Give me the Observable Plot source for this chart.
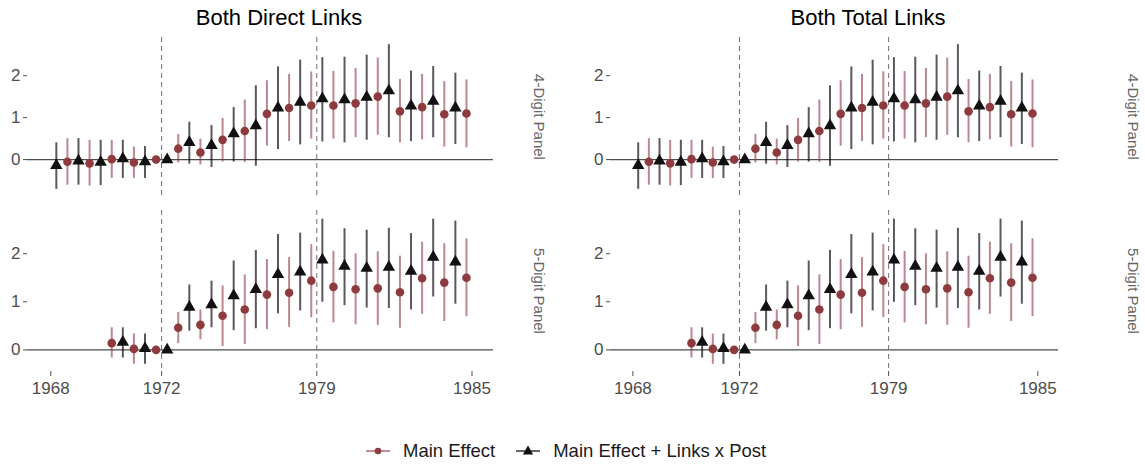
<!DOCTYPE html>
<html>
<head>
<meta charset="utf-8">
<script src="https://cdn.jsdelivr.net/npm/d3@7"></script>
<script src="https://cdn.jsdelivr.net/npm/@observablehq/plot@0.6"></script>
<style>
  html, body { margin: 0; padding: 0; background: #fff; }
  #root { position: relative; width: 1145px; height: 464px; font-family: "Liberation Sans", Arial, sans-serif; overflow: hidden; }
  .title { position: absolute; top: 5px; font-size: 22px; color: #000; transform: translateX(-50%); white-space: nowrap; }
  .plot { position: absolute; }
  #legend { position: absolute; left: 366px; top: 440px; display: flex; align-items: center; font-size: 18.5px; color: #1a1a1a; white-space: nowrap; }
  #legend .item { display: flex; align-items: center; }
  #legend svg { margin-right: 13px; }
</style>
</head>
<body>
<div id="root"></div>
<script>
// ---- categories / ticks ----
const period = [0,1,2,3,4,5,6,7,8,9,10,11,12,13,14,15,16,17,18,19];
const tickPositions = [0, 5, 12, 19];
const tickLabels = ["1968", "1972", "1979", "1985"];
const yTicks = [0, 1, 2];
const dashedAt = [5, 12];
const columnTitles = ["Both Direct Links", "Both Total Links"];
const rowLabels = ["4-Digit Panel", "5-Digit Panel"];
const seriesNames = ["Main Effect", "Main Effect + Links x Post"];

// ---- 4-digit panel ----
const main4   = [null, -0.05, -0.09, 0.01, -0.07, 0, 0.26, 0.17, 0.47, 0.68, 1.09, 1.23, 1.29, 1.29, 1.34, 1.50, 1.15, 1.25, 1.08, 1.10];
const main4Lo = [null, -0.61, -0.63, -0.45, -0.45, null, -0.08, -0.13, -0.06, -0.07, 0.32, 0.43, 0.49, 0.49, 0.52, 0.58, 0.40, 0.47, 0.30, 0.28];
const main4Hi = [null, 0.50, 0.46, 0.46, 0.30, null, 0.60, 0.49, 0.98, 1.42, 1.88, 2.03, 2.09, 2.10, 2.17, 2.42, 1.91, 2.03, 1.86, 1.90];
const tot4    = [-0.14, -0.03, -0.06, 0.02, -0.05, 0, 0.41, 0.34, 0.62, 0.81, 1.23, 1.37, 1.45, 1.43, 1.49, 1.64, 1.28, 1.39, 1.23, null];
const tot4Lo  = [-0.71, -0.61, -0.62, -0.45, -0.45, null, -0.11, -0.19, -0.06, -0.16, 0.24, 0.35, 0.42, 0.40, 0.46, 0.52, 0.43, 0.52, 0.36, null];
const tot4Hi  = [0.40, 0.50, 0.46, 0.46, 0.31, null, 0.89, 0.81, 1.24, 1.76, 2.21, 2.37, 2.43, 2.44, 2.49, 2.74, 2.11, 2.22, 2.06, null];

// ---- 5-digit panel ----
const main5   = [null, null, null, 0.14, 0.02, 0, 0.46, 0.52, 0.71, 0.84, 1.15, 1.19, 1.44, 1.31, 1.26, 1.28, 1.20, 1.49, 1.40, 1.50];
const main5Lo = [null, null, null, -0.17, -0.30, null, 0.13, 0.21, 0.07, 0.11, 0.42, 0.47, 0.67, 0.56, 0.52, 0.51, 0.45, 0.74, 0.59, 0.69];
const main5Hi = [null, null, null, 0.46, 0.33, null, 0.78, 0.83, 1.33, 1.56, 1.88, 1.92, 2.19, 2.05, 2.00, 2.04, 1.95, 2.24, 2.21, 2.31];
const tot5    = [null, null, null, 0.16, 0.03, 0, 0.89, 0.94, 1.13, 1.26, 1.57, 1.62, 1.87, 1.74, 1.70, 1.72, 1.64, 1.93, 1.83, null];
const tot5Lo  = [null, null, null, -0.17, -0.30, null, 0.39, 0.46, 0.40, 0.44, 0.75, 0.81, 0.99, 0.92, 0.87, 0.86, 0.83, 1.10, 0.95, null];
const tot5Hi  = [null, null, null, 0.46, 0.33, null, 1.35, 1.43, 1.85, 2.07, 2.40, 2.43, 2.72, 2.52, 2.49, 2.53, 2.42, 2.72, 2.68, null];

// ---- styling ----
const FONT = '"Liberation Sans", Arial, sans-serif';
const RED = "#8E3B3F";
const BLACK = "#111111";
const DODGE = 0.25;

function rows(est, lo, hi, offset) {
  const out = [];
  period.forEach((p, i) => {
    if (est[i] == null) return;
    out.push({ pos: p + offset, v: est[i], lo: lo[i], hi: hi[i] });
  });
  return out;
}

const rowData = [
  { main: rows(main4, main4Lo, main4Hi, -DODGE), tot: rows(tot4, tot4Lo, tot4Hi, DODGE), yDomain: [-0.88, 2.91] },
  { main: rows(main5, main5Lo, main5Hi, -DODGE), tot: rows(tot5, tot5Lo, tot5Hi, DODGE), yDomain: [-0.45, 2.90] }
];

const columns = [
  { svgLeft: 0, panelLeft: 27, panelRight: 493, svgRight: 556, stripDx: 45, titleX: 279 },
  { svgLeft: 560, panelLeft: 610, panelRight: 1058, svgRight: 1145, stripDx: 74, titleX: 868 }
];
const rowsLayout = [
  { top: 37, bottom: 196, marginTop: 8, marginBottom: 6, showX: false },
  { top: 210, bottom: 371, marginTop: 6, marginBottom: 32, showX: true }
];

const root = document.getElementById("root");

columns.forEach((col, ci) => {
  const t = document.createElement("div");
  t.className = "title";
  t.style.left = col.titleX + "px";
  t.textContent = columnTitles[ci];
  root.appendChild(t);

  rowsLayout.forEach((rl, ri) => {
    const d = rowData[ri];
    const panelH = rl.bottom - rl.top;
    const chart = Plot.plot({
      width: col.svgRight - col.svgLeft,
      height: rl.marginTop + panelH + rl.marginBottom,
      marginLeft: col.panelLeft - col.svgLeft,
      marginRight: col.svgRight - col.panelRight,
      marginTop: rl.marginTop,
      marginBottom: rl.marginBottom,
      style: { fontFamily: FONT, fontSize: "17px", color: "#4d4d4d", background: "transparent", overflow: "visible" },
      x: rl.showX
        ? { domain: [-1.05, 19.97], ticks: tickPositions, tickFormat: v => tickLabels[tickPositions.indexOf(v)], tickSize: 5, tickPadding: 5, label: null }
        : { domain: [-1.05, 19.97], axis: null },
      y: { domain: d.yDomain, ticks: yTicks, tickFormat: d3.format("d"), tickSize: 4, tickPadding: 3, label: null },
      marks: [
        Plot.ruleY([0], { stroke: "#4d4d4d", strokeWidth: 1.1 }),
        Plot.ruleX(dashedAt, { stroke: "#6e6e6e", strokeDasharray: "5,4", strokeWidth: 1 }),
        Plot.ruleX(d.main, { x: "pos", y1: "lo", y2: "hi", stroke: RED, strokeOpacity: 0.6, strokeWidth: 2 }),
        Plot.ruleX(d.tot, { x: "pos", y1: "lo", y2: "hi", stroke: "#000", strokeOpacity: 0.65, strokeWidth: 2 }),
        Plot.dot(d.main, { x: "pos", y: "v", r: 4.3, fill: RED, stroke: null, symbol: "circle" }),
        Plot.dot(d.tot, { x: "pos", y: "v", r: 4.6, fill: BLACK, stroke: null, symbol: "triangle" }),
        Plot.text([rowLabels[ri]], { frameAnchor: "right", textAnchor: "middle", lineAnchor: "middle", rotate: 90, dx: col.stripDx, fontSize: 15, fill: "#666" })
      ]
    });
    chart.classList.add("plot");
    chart.style.left = col.svgLeft + "px";
    chart.style.top = (rl.top - rl.marginTop) + "px";
    root.appendChild(chart);
  });
});

// ---- legend ----
const legend = document.createElement("div");
legend.id = "legend";
const keys = [
  `<svg width="24" height="14"><line x1="0" y1="7" x2="24" y2="7" stroke="${RED}" stroke-opacity="0.7" stroke-width="1.6"/><circle cx="12" cy="7" r="3.3" fill="${RED}"/></svg>`,
  `<svg width="24" height="14"><line x1="0" y1="7" x2="24" y2="7" stroke="#000" stroke-opacity="0.75" stroke-width="1.6"/><path d="${d3.symbol(d3.symbolTriangle, 45)()}" transform="translate(12,7.5)" fill="${BLACK}"/></svg>`
];
seriesNames.forEach((name, i) => {
  const item = document.createElement("div");
  item.className = "item";
  if (i > 0) item.style.marginLeft = "21px";
  item.innerHTML = keys[i];
  const span = document.createElement("span");
  span.textContent = name;
  item.appendChild(span);
  legend.appendChild(item);
});
root.appendChild(legend);
</script>
</body>
</html>
